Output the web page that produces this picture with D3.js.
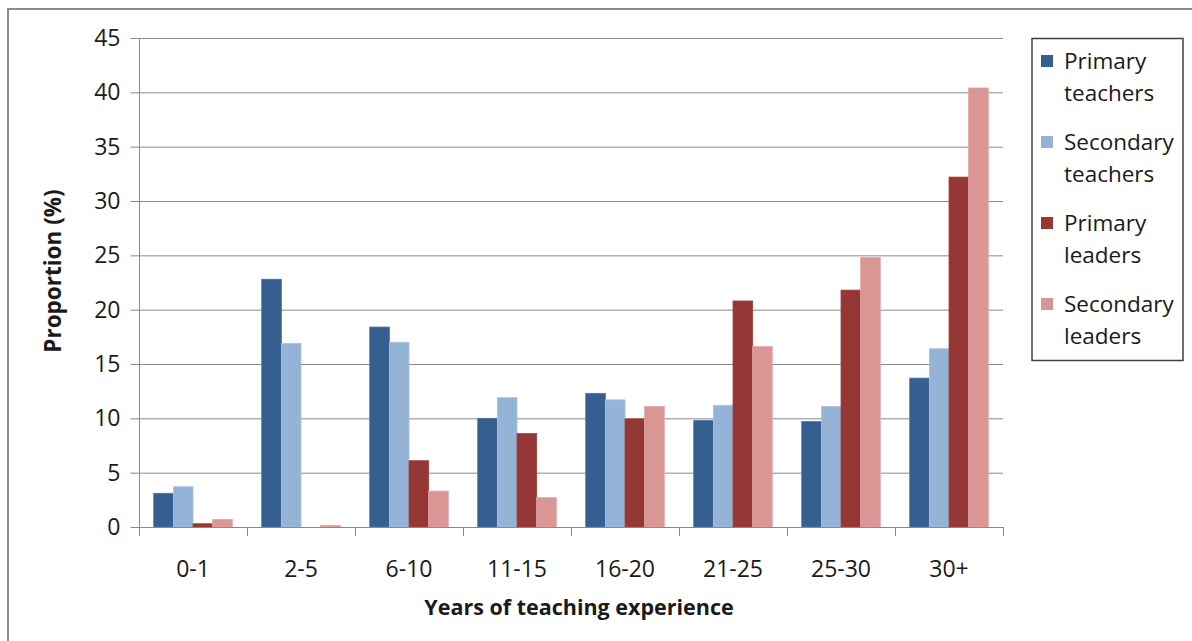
<!DOCTYPE html>
<html>
<head>
<meta charset="utf-8">
<script src="https://cdn.jsdelivr.net/npm/d3@7/dist/d3.min.js"></script>
<style>
  html, body { margin: 0; padding: 0; background: #fff; }
  svg { display: block; }
  text { font-family: "Open Sans", Lato, "Liberation Sans", sans-serif; fill: #1a1a1a; }
</style>
</head>
<body>
<svg id="chart" width="1192" height="641"></svg>
<script>
// Years-of-experience bands
const categories = ["0-1", "2-5", "6-10", "11-15", "16-20", "21-25", "25-30", "30+"];

// Proportion (%) for each group
const primaryTeachers   = [3.1, 22.8, 18.4, 10.0, 12.3,  9.8,  9.7, 13.7];
const secondaryTeachers = [3.7, 16.9, 17.0, 11.9, 11.7, 11.2, 11.1, 16.4];
const primaryLeaders    = [0.3,  0.0,  6.1,  8.6,  9.95, 20.8, 21.8, 32.2];
const secondaryLeaders  = [0.7,  0.15, 3.3,  2.7, 11.1, 16.6, 24.8, 40.4];

const seriesNames = ["Primary teachers", "Secondary teachers", "Primary leaders", "Secondary leaders"];
const seriesValues = [primaryTeachers, secondaryTeachers, primaryLeaders, secondaryLeaders];
const seriesColors = ["#365f91", "#95b3d7", "#953735", "#d99694"];
const seriesStrokes = ["#4a73a6", "#a9c3e0", "#a4403e", "#e3a7a6"];

const yTicks = [0, 5, 10, 15, 20, 25, 30, 35, 40, 45];

const FONT = "'Open Sans', Lato, sans-serif";
const svg = d3.select("#chart");

// Chart-area border
svg.append("rect")
  .attr("x", 8).attr("y", 9)
  .attr("width", 1200).attr("height", 700)
  .attr("fill", "none").attr("stroke", "#8c8c8c").attr("stroke-width", 2);

const plot = { left: 139, right: 1003, top: 38, bottom: 527 };

const x = d3.scaleBand()
  .domain(categories)
  .range([plot.left, plot.right])
  .paddingInner(0).paddingOuter(0);

// 150% gap width: four bars plus 1.5 bar widths of gap per category
const barW = x.bandwidth() / 5.5;
const xs = d3.scaleBand()
  .domain(d3.range(seriesNames.length))
  .range([barW * 0.75, barW * 0.75 + barW * 4]);

const y = d3.scaleLinear().domain([0, 45]).range([plot.bottom, plot.top]);

// Horizontal gridlines
svg.append("g")
  .selectAll("line")
  .data(yTicks.filter(d => d > 0))
  .join("line")
  .attr("x1", plot.left).attr("x2", plot.right)
  .attr("y1", d => y(d) + 0.5).attr("y2", d => y(d) + 0.5)
  .attr("stroke", "#8a8a8a").attr("stroke-width", 1);

// Bars
const groups = svg.append("g")
  .selectAll("g")
  .data(categories)
  .join("g")
  .attr("transform", d => `translate(${x(d)},0)`);

groups.selectAll("rect")
  .data((c, i) => seriesValues.map((vals, s) => ({ s, v: vals[i] })))
  .join("rect")
  .attr("x", d => xs(d.s))
  .attr("width", xs.bandwidth())
  .attr("y", d => y(d.v))
  .attr("height", d => y(0) - y(d.v))
  .attr("fill", d => seriesColors[d.s])
  .attr("stroke", d => d.v > 0 ? seriesStrokes[d.s] : "none")
  .attr("stroke-width", 0.8);

// Y axis
const yAxis = svg.append("g")
  .attr("transform", `translate(${plot.left + 0.5},0)`)
  .call(d3.axisLeft(y).tickValues(yTicks).tickSize(9).tickPadding(10).tickFormat(d3.format("d")));
yAxis.select(".domain").attr("stroke", "#8a8a8a").attr("d", `M0,${plot.top}V${plot.bottom}`);
yAxis.selectAll(".tick line").attr("stroke", "#8a8a8a");
yAxis.selectAll(".tick text")
  .attr("font-size", 23).attr("fill", "#1a1a1a")
  .attr("font-family", FONT);

// X axis
const xAxis = svg.append("g")
  .attr("transform", `translate(0,${plot.bottom + 0.5})`)
  .call(d3.axisBottom(x).tickSize(0).tickPadding(33));
xAxis.select(".domain").attr("stroke", "#8a8a8a").attr("d", `M${plot.left},0H${plot.right}`);
xAxis.selectAll(".tick text")
  .attr("font-size", 23).attr("fill", "#1a1a1a")
  .attr("font-family", FONT);

// Category boundary tick marks
svg.append("g")
  .selectAll("line")
  .data(categories.map(c => x(c)).concat([plot.right]))
  .join("line")
  .attr("x1", d => Math.round(d) + 0.5).attr("x2", d => Math.round(d) + 0.5)
  .attr("y1", plot.bottom).attr("y2", plot.bottom + 9)
  .attr("stroke", "#8a8a8a");

// Axis titles
svg.append("text")
  .attr("transform", "translate(61,271) rotate(-90)")
  .attr("text-anchor", "middle")
  .attr("font-size", 22.5).attr("font-weight", "bold")
  .text("Proportion (%)");

svg.append("text")
  .attr("x", 579)
  .attr("y", 615)
  .attr("text-anchor", "middle")
  .attr("font-size", 21.5).attr("font-weight", "bold")
  .text("Years of teaching experience");

// Legend
const legend = svg.append("g");
legend.append("rect")
  .attr("x", 1032).attr("y", 38.5)
  .attr("width", 151).attr("height", 322)
  .attr("fill", "#fff").attr("stroke", "#404040").attr("stroke-width", 1.5);

const items = legend.selectAll("g")
  .data(seriesNames)
  .join("g")
  .attr("transform", (d, i) => `translate(1041,${55 + i * 81})`);

items.append("rect")
  .attr("width", 12).attr("height", 12)
  .attr("fill", (d, i) => seriesColors[i]);

items.append("text")
  .attr("x", 23)
  .attr("font-size", 22.5)
  .selectAll("tspan")
  .data(d => d.split(" "))
  .join("tspan")
  .attr("x", 23)
  .attr("y", (d, j) => 14 + j * 32)
  .text(d => d);
</script>
</body>
</html>
